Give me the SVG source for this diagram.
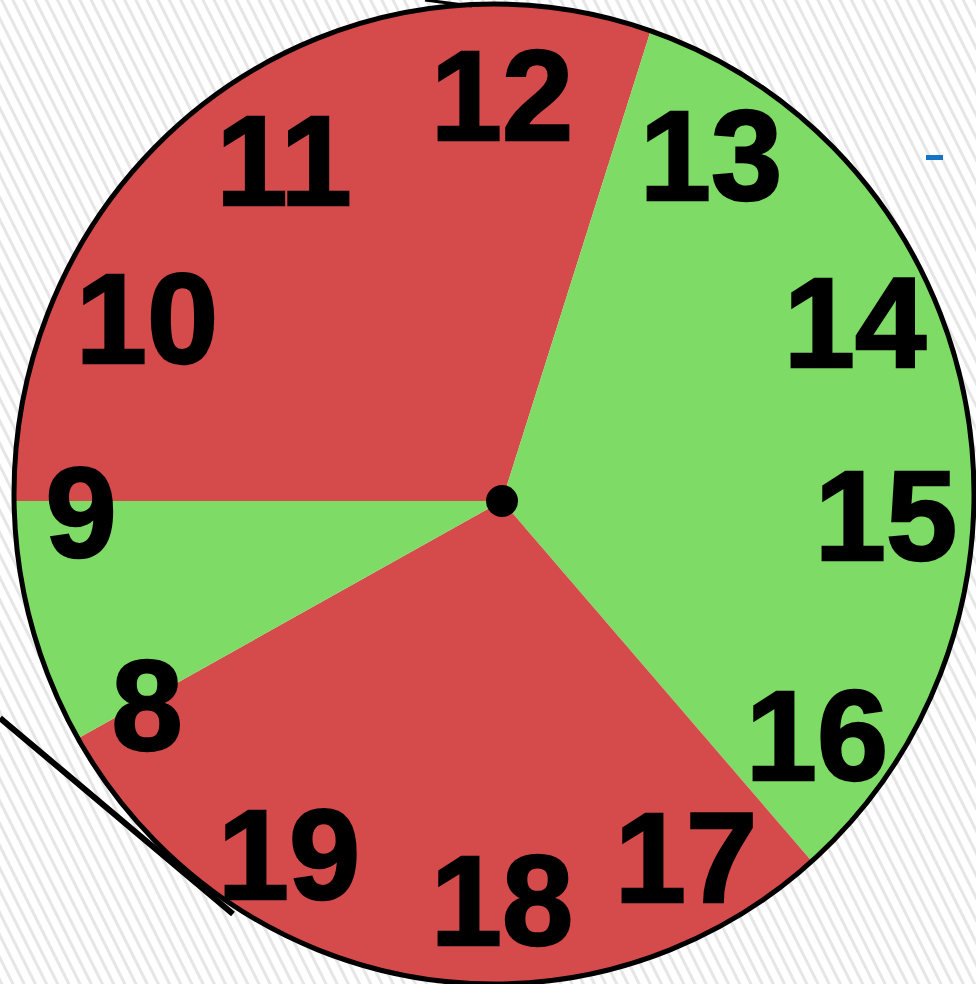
<svg xmlns="http://www.w3.org/2000/svg" width="976" height="984" viewBox="0 0 976 984">
  <style>
    .num { font-family: "Liberation Sans", Arial, sans-serif; font-weight: 700; font-size: 128px; fill: #000; stroke: #000; stroke-width: 2.5; text-anchor: middle; }
    .red { fill: #D54A4A; }
    .green { fill: #7DDB66; }
  </style>
  <defs>
    <pattern id="stripes" patternUnits="userSpaceOnUse" width="10" height="10" patternTransform="rotate(-26.57)">
      <rect x="0" y="0" width="10" height="10" fill="#ffffff"/>
      <rect x="0" y="0" width="3" height="10" fill="#e6e6e6"/>
    </pattern>
    <clipPath id="face">
      <ellipse cx="494" cy="494" rx="480" ry="490"/>
    </clipPath>
  </defs>
  <rect id="background" x="0" y="0" width="976" height="984" fill="url(#stripes)"/>
  <g id="dial" clip-path="url(#face)">
    <polygon id="sector-red-top" class="red" points="502,501 -100,501 -100,-100 692,-100"/>
    <polygon id="sector-green-right" class="green" points="502,501 692,-100 1100,-100 1100,1100 1017,1100"/>
    <polygon id="sector-red-bottom" class="red" points="502,501 1017,1100 -100,1100 -100,838"/>
    <polygon id="sector-green-left" class="green" points="502,501 -100,838 -100,501"/>
  </g>
  <g id="connectors">
    <line x1="0" y1="718" x2="233" y2="914" stroke="#000" stroke-width="6"/>
    <path d="M425,0 L472,6" stroke="#000" stroke-width="3" fill="none"/>
  </g>
  <ellipse id="rim" cx="494" cy="494" rx="480" ry="490" fill="none" stroke="#000" stroke-width="5"/>
  <circle id="hub" cx="502" cy="501" r="16" fill="#000"/>
  <g id="n12"><text class="num" x="502" y="140">12</text></g>
  <g id="n11"><text class="num" x="284" y="205">11</text></g>
  <g id="n10"><text class="num" x="147" y="363">10</text></g>
  <g id="n9"><text class="num" x="81" y="557">9</text></g>
  <g id="n8"><text class="num" x="147" y="750">8</text></g>
  <g id="n19"><text class="num" x="289" y="899">19</text></g>
  <g id="n18"><text class="num" x="502" y="945">18</text></g>
  <g id="n17"><text class="num" x="686" y="902">17</text></g>
  <g id="n16"><text class="num" x="817" y="780">16</text></g>
  <g id="n15"><text class="num" x="886" y="560">15</text></g>
  <g id="n14"><text class="num" x="855" y="367">14</text></g>
  <g id="n13"><text class="num" x="711" y="200">13</text></g>
  <rect id="dash" x="926" y="155" width="17" height="5" fill="#1574C4"/>
</svg>
